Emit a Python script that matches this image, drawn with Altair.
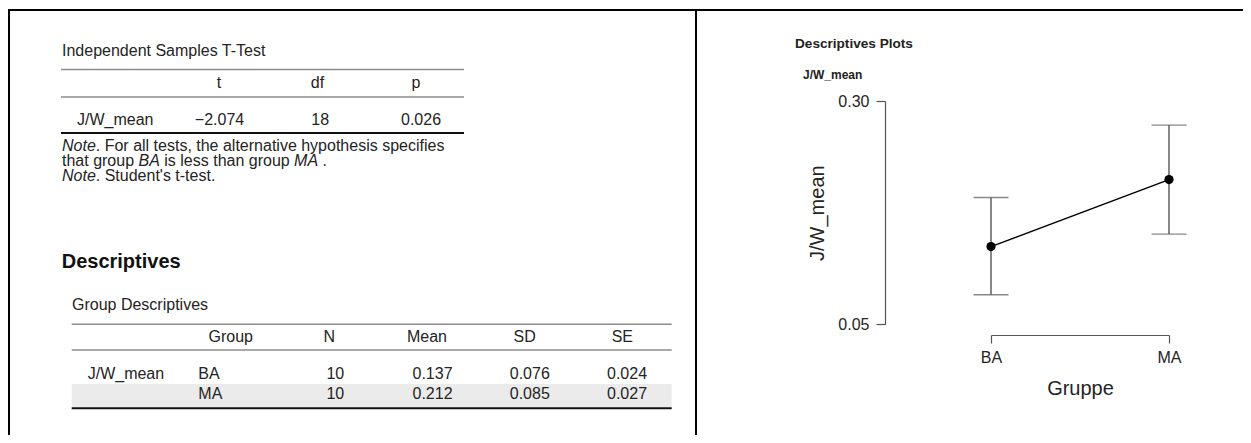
import altair as alt
import pandas as pd

# ---------------- data ----------------
ttest_cols = ["t", "df", "p"]
ttest_vals = ["\u22122.074", "18", "0.026"]
variable = "J/W_mean"
groups = ["BA", "MA"]
n_vals = [10, 10]
means = [0.137, 0.212]
sds = [0.076, 0.085]
ses = [0.024, 0.027]
ci_lower = [0.083, 0.151]
ci_upper = [0.192, 0.273]
desc_cols = ["Group", "N", "Mean", "SD", "SE"]
y_ticks = [0.05, 0.30]

# ---------------- styling / layout ----------------
FONT = "Liberation Sans, Arial, sans-serif"
TXT = "#242424"
GRAY_RULE = "#8c8c8c"
W, H = 1235, 427


def label(txt, x, y, size=16, weight="normal", style="normal", align="left", color=TXT):
    return alt.Chart().mark_text(
        text=txt, font=FONT, fontSize=size, fontWeight=weight, fontStyle=style,
        align=align, baseline="middle", color=color
    ).encode(x=alt.value(x), y=alt.value(y))


def hrule(x1, x2, y, color, width):
    return alt.Chart().mark_rule(color=color, strokeWidth=width).encode(
        x=alt.value(x1), x2=alt.value(x2), y=alt.value(y))


def vrule(x, y1, y2, color, width):
    return alt.Chart().mark_rule(color=color, strokeWidth=width).encode(
        x=alt.value(x), y=alt.value(y1), y2=alt.value(y2))


def pscale(domain, lo, hi):
    return alt.Scale(type="point", domain=domain, range=[lo, hi], padding=0)


layers = []

# frame
layers += [
    hrule(0, W, 2, "black", 2),
    vrule(1, 1, H, "black", 2),
    vrule(688, 1, H, "black", 2),
]

# ---------------- Table 1: Independent Samples T-Test ----------------
layers.append(label("Independent Samples T-Test", 54, 43))
layers.append(hrule(53, 456, 61.5, GRAY_RULE, 1.5))
layers.append(hrule(53, 456, 89, GRAY_RULE, 1.5))
layers.append(hrule(53, 456, 125, "#111", 2))

t_head = pd.DataFrame({"col": ttest_cols, "text": ttest_cols})
layers.append(
    alt.Chart(t_head).mark_text(font=FONT, fontSize=16, color=TXT, align="center", baseline="middle")
    .encode(x=alt.X("col:N", scale=pscale(ttest_cols, 211, 408), axis=None),
            y=alt.value(75), text="text:N")
)
t_body = pd.DataFrame({"col": ttest_cols, "text": ttest_vals})
layers.append(
    alt.Chart(t_body).mark_text(font=FONT, fontSize=16, color=TXT, align="center", baseline="middle")
    .encode(x=alt.X("col:N", scale=pscale(ttest_cols, 211.5, 413), axis=None),
            y=alt.value(112), text="text:N")
)
layers.append(label(variable, 69, 112))

# notes (mixed italic segments)
layers.append(label("Note", 54, 137.5, style="italic"))
layers.append(label(". For all tests, the alternative hypothesis specifies", 87.8, 137.5))
layers.append(label("that group", 54, 152.5))
layers.append(label("BA", 130.5, 152.5, style="italic"))
layers.append(label("is less than group", 156.3, 152.5))
layers.append(label("MA", 286.1, 152.5, style="italic"))
layers.append(label(".", 314.6, 152.5))
layers.append(label("Note", 54, 167.5, style="italic"))
layers.append(label(". Student's t-test.", 87.8, 167.5))

# ---------------- Table 2: Descriptives ----------------
layers.append(label("Descriptives", 53.7, 253.7, size=20, weight="bold", color="#111"))
layers.append(label("Group Descriptives", 64, 297))
layers.append(alt.Chart().mark_rect(color="#ebebeb").encode(
    x=alt.value(63.7), x2=alt.value(663.7), y=alt.value(376), y2=alt.value(399.5)))
layers.append(hrule(63.7, 663.7, 316.3, GRAY_RULE, 1.5))
layers.append(hrule(63.7, 663.7, 342, GRAY_RULE, 1.5))
layers.append(hrule(63.7, 663.7, 400.3, "#111", 2))

layers.append(label(desc_cols[0], 222.7, 329.3, align="center"))
num_cols = desc_cols[1:]
d_head = pd.DataFrame({"col": num_cols, "text": num_cols})
layers.append(
    alt.Chart(d_head).mark_text(font=FONT, fontSize=16, color=TXT, align="center", baseline="middle")
    .encode(x=alt.X("col:N", scale=pscale(num_cols, 321.3, 614.3), axis=None),
            y=alt.value(329.3), text="text:N")
)

rows = []
for i, g in enumerate(groups):
    rows.append({"group": g, "col": "N", "text": f"{n_vals[i]}"})
    rows.append({"group": g, "col": "Mean", "text": f"{means[i]:.3f}"})
    rows.append({"group": g, "col": "SD", "text": f"{sds[i]:.3f}"})
    rows.append({"group": g, "col": "SE", "text": f"{ses[i]:.3f}"})
d_body = pd.DataFrame(rows)
layers.append(
    alt.Chart(d_body).mark_text(font=FONT, fontSize=16, color=TXT, align="center", baseline="middle")
    .encode(x=alt.X("col:N", scale=pscale(num_cols, 327.3, 619), axis=None),
            y=alt.Y("group:N", scale=pscale(groups, 366, 386), axis=None),
            text="text:N")
)
d_groups = pd.DataFrame({"group": groups})
layers.append(
    alt.Chart(d_groups).mark_text(font=FONT, fontSize=16, color=TXT, align="left", baseline="middle")
    .encode(x=alt.value(190.3),
            y=alt.Y("group:N", scale=pscale(groups, 366, 386), axis=None),
            text="group:N")
)
layers.append(label(variable, 79.7, 366))

# ---------------- Descriptives plot ----------------
layers.append(label("Descriptives Plots", 787, 36, size=13.6, weight="bold", color="#222"))
layers.append(label(variable, 795, 67, size=12, weight="bold", color="#222"))

df_plot = pd.DataFrame({"group": groups, "mean": means, "lo": ci_lower, "hi": ci_upper})
xs = pscale(groups, 983, 1161)
ys = alt.Scale(domain=[y_ticks[0], y_ticks[-1]], range=[316.3, 93], zero=False, nice=False)
AX = "#555555"
xaxis = alt.Axis(orient="bottom", offset=-100, title="Gruppe", grid=False,
                 domainColor=AX, domainWidth=1.2, tickColor=AX, tickWidth=1.2, tickSize=8,
                 labelFont=FONT, labelFontSize=16, labelColor=TXT, labelAngle=0,
                 labelPadding=6,
                 titleFont=FONT, titleFontSize=20, titleFontWeight="normal", titleColor=TXT,
                 titleY=59, titleBaseline="alphabetic")
yaxis = alt.Axis(orient="left", offset=-877, title=variable, grid=False,
                 values=y_ticks, format=".2f",
                 domainColor=AX, domainWidth=1.2, tickColor=AX, tickWidth=1.2, tickSize=9,
                 labelFont=FONT, labelFontSize=16, labelColor=TXT, labelPadding=7,
                 titleFont=FONT, titleFontSize=20, titleFontWeight="normal", titleColor=TXT,
                 titleX=-68, titleBaseline="middle")

base = alt.Chart(df_plot)
X = alt.X("group:N", scale=xs, axis=xaxis)
errbars = base.mark_rule(color=AX, strokeWidth=1.4).encode(
    x=X, y=alt.Y("lo:Q", scale=ys, axis=yaxis), y2="hi:Q")
cap_lo = base.mark_tick(orient="horizontal", size=35, thickness=1.4, color=AX).encode(
    x=X, y=alt.Y("lo:Q", scale=ys, axis=yaxis))
cap_hi = base.mark_tick(orient="horizontal", size=35, thickness=1.4, color=AX).encode(
    x=X, y=alt.Y("hi:Q", scale=ys, axis=yaxis))
line = base.mark_line(color="black", strokeWidth=1.5).encode(
    x=X, y=alt.Y("mean:Q", scale=ys, axis=yaxis))
points = base.mark_circle(size=85, color="black", opacity=1).encode(
    x=X, y=alt.Y("mean:Q", scale=ys, axis=yaxis))
plot = alt.layer(errbars, cap_lo, cap_hi, line, points)

chart = (
    alt.layer(*layers, plot)
    .resolve_scale(x="independent", y="independent")
    .properties(width=W, height=H, padding=0,
                autosize=alt.AutoSizeParams(type="none"), background="white")
    .configure_view(strokeWidth=0)
)

chart.save("out.html", embed_options={"renderer": "svg", "actions": False})
